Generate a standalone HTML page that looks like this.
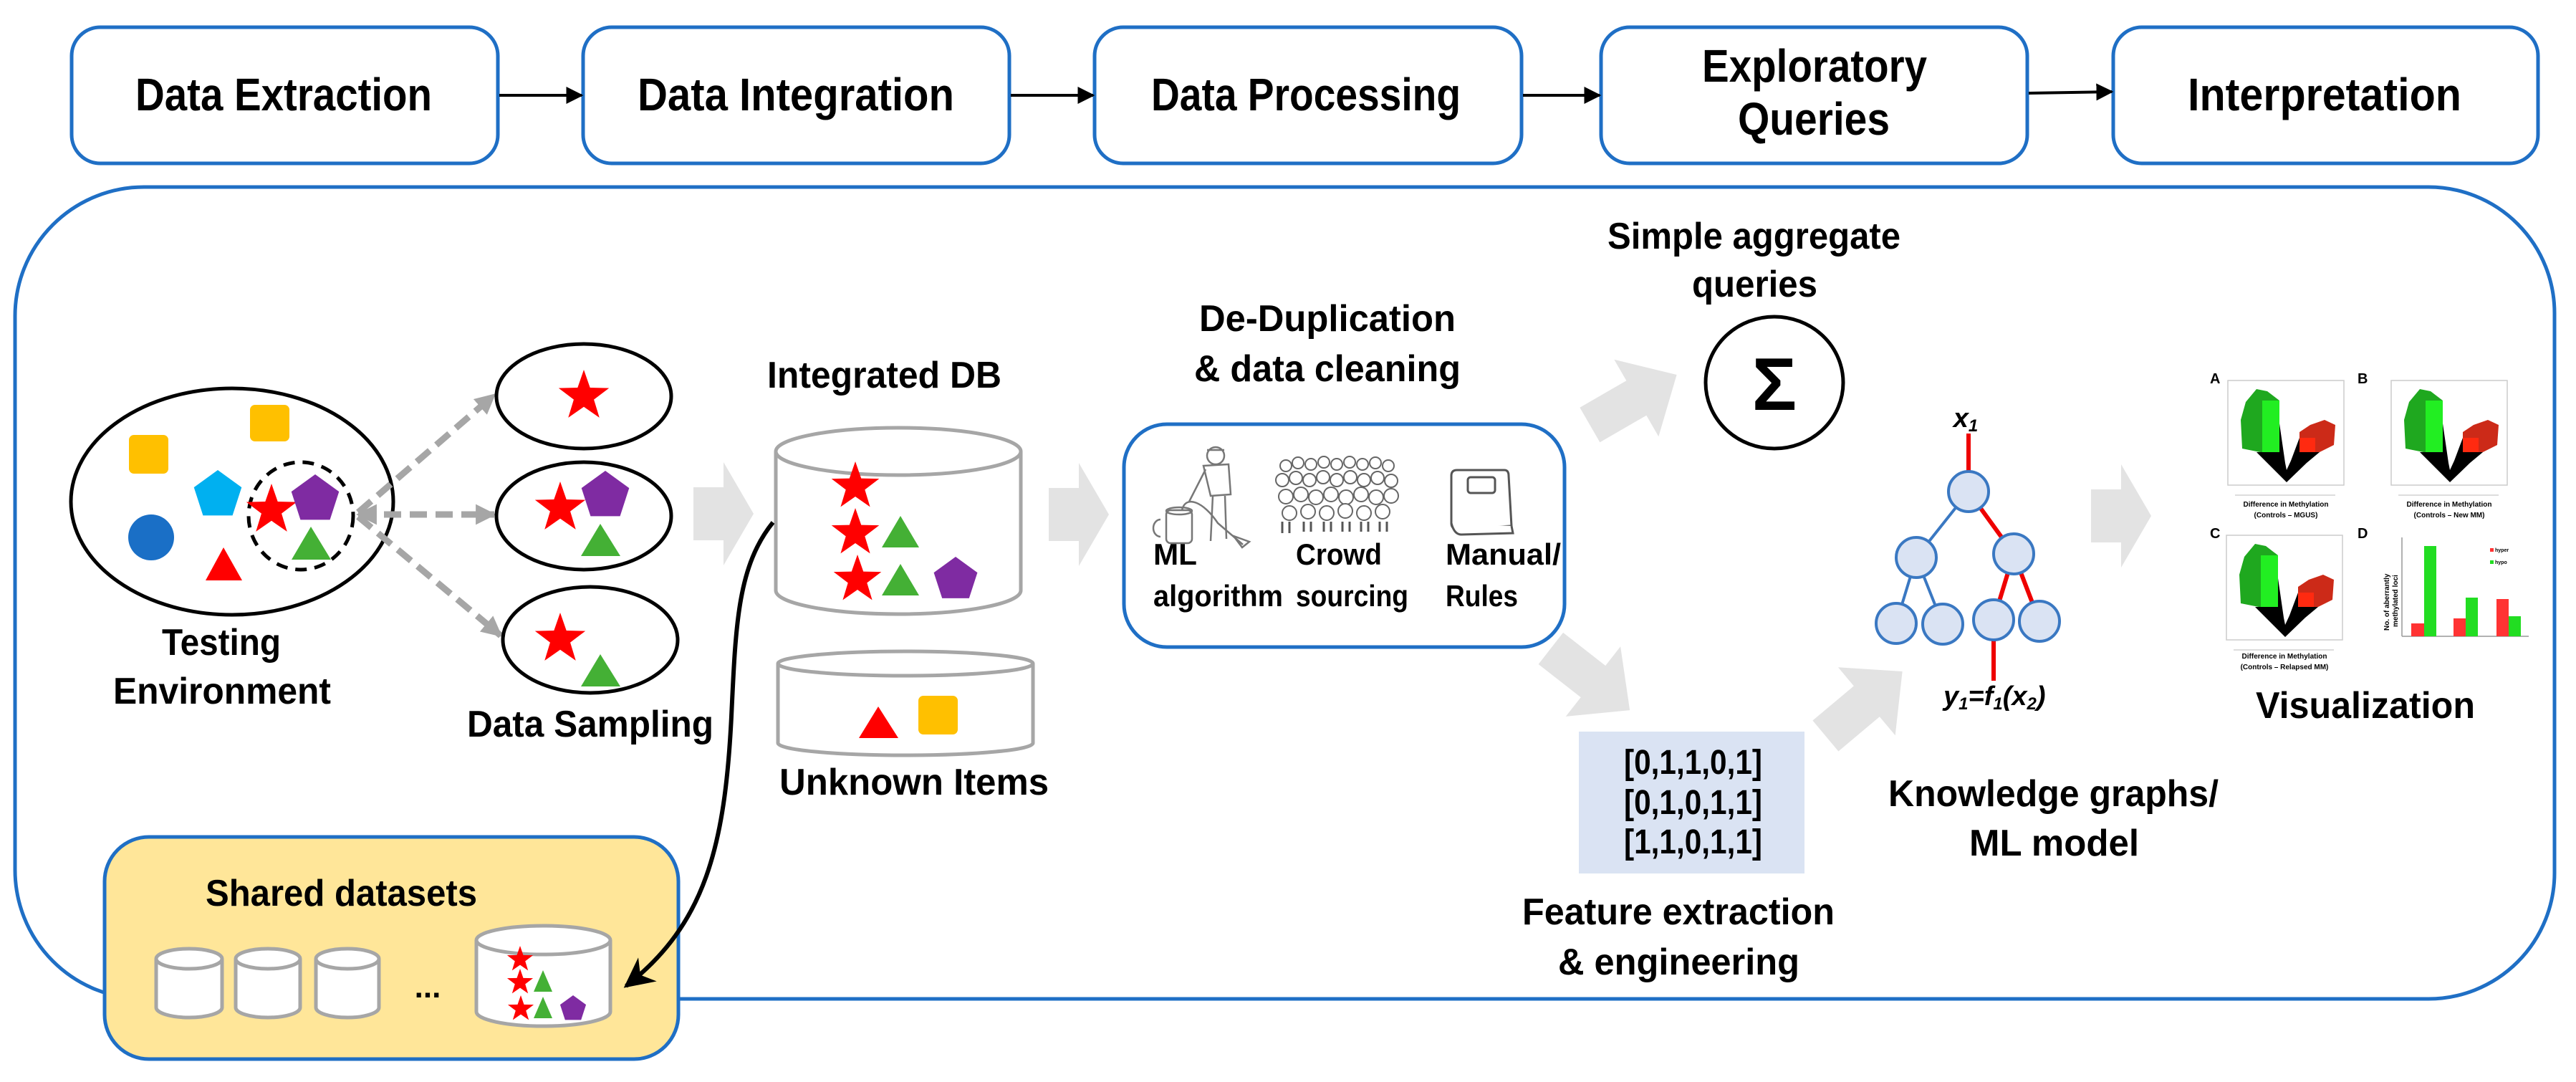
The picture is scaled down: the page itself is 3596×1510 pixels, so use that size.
<!DOCTYPE html>
<html><head><meta charset="utf-8"><style>
html,body{margin:0;padding:0;background:#fff;}
svg{display:block;}
text{font-family:"Liberation Sans",sans-serif;font-weight:bold;fill:#000;}
</style></head><body>
<svg width="3596" height="1510" viewBox="0 0 3596 1510" xmlns="http://www.w3.org/2000/svg">
<defs>
<polygon id="star" points="0,-1 0.235,-0.324 0.951,-0.309 0.380,0.124 0.588,0.809 0,0.4 -0.588,0.809 -0.380,0.124 -0.951,-0.309 -0.235,-0.324"/>
<polygon id="pent" points="0,-1 0.951,-0.309 0.588,0.809 -0.588,0.809 -0.951,-0.309"/>
<marker id="ab" viewBox="0 0 10 10" refX="9" refY="5" markerWidth="6" markerHeight="6" orient="auto" markerUnits="strokeWidth"><path d="M0,0 L10,5 L0,10 z" fill="#000"/></marker>
<marker id="ab2" viewBox="0 0 10 10" refX="9" refY="5" markerWidth="7" markerHeight="7" orient="auto" markerUnits="strokeWidth"><path d="M0,0 L10,5 L0,10 L3,5 z" fill="#000"/></marker>
<marker id="ag" viewBox="0 0 10 10" refX="9" refY="5" markerWidth="3.2" markerHeight="3.2" orient="auto" markerUnits="strokeWidth"><path d="M0,0 L10,5 L0,10 z" fill="#a6a6a6"/></marker>
<marker id="ags" viewBox="0 0 10 10" refX="1" refY="5" markerWidth="3.2" markerHeight="3.2" orient="auto" markerUnits="strokeWidth"><path d="M10,0 L0,5 L10,10 z" fill="#a6a6a6"/></marker>
<polygon id="barr" points="-42,-37 0,-37 0,-72 42,0 0,72 0,37 -42,37" fill="#e3e3e3"/>
<polygon id="darr" points="-70,-28 5,-28 5,-62 70,0 5,62 5,28 -70,28" fill="#e3e3e3"/>
<g id="volc">
  <rect x="0" y="0" width="162" height="146" fill="#fff" stroke="#ccc" stroke-width="1.5"/>
  <polygon points="20,95 18,55 25,30 40,12 55,15 72,28 72,100 45,100" fill="#1fa81f"/>
  <polygon points="82,142 40,100 55,100 72,100 72,60 80,115 82,125 88,112 100,80 100,100 128,100 110,115" fill="#000"/>
  <rect x="48" y="28" width="24" height="72" fill="#22ee22"/>
  <polygon points="100,100 100,72 115,62 135,55 150,62 148,90 128,100" fill="#cc2a18"/>
  <rect x="100" y="80" width="22" height="20" fill="#ff2a10"/>
  <line x1="10" y1="160" x2="150" y2="160" stroke="#bbb" stroke-width="1"/>
</g>
</defs>

<!-- top process boxes -->
<g fill="#fff" stroke="#1f6fc5" stroke-width="5">
<rect x="100" y="38" width="595" height="190" rx="40"/>
<rect x="814" y="38" width="595" height="190" rx="40"/>
<rect x="1528" y="38" width="596" height="190" rx="40"/>
<rect x="2235" y="38" width="595" height="190" rx="40"/>
<rect x="2950" y="38" width="593" height="190" rx="40"/>
</g>
<g stroke="#000" stroke-width="4">
<line x1="697" y1="133" x2="812" y2="133" marker-end="url(#ab)"/>
<line x1="1411" y1="133" x2="1526" y2="133" marker-end="url(#ab)"/>
<line x1="2126" y1="133" x2="2233" y2="133" marker-end="url(#ab)"/>
<line x1="2832" y1="130" x2="2948" y2="128" marker-end="url(#ab)"/>
</g>
<g font-size="64">
<text x="189" y="154" textLength="414" lengthAdjust="spacingAndGlyphs">Data Extraction</text>
<text x="890" y="154" textLength="442" lengthAdjust="spacingAndGlyphs">Data Integration</text>
<text x="1607" y="154" textLength="432" lengthAdjust="spacingAndGlyphs">Data Processing</text>
<text x="2376" y="114" textLength="314" lengthAdjust="spacingAndGlyphs">Exploratory</text>
<text x="2426" y="188" textLength="212" lengthAdjust="spacingAndGlyphs">Queries</text>
<text x="3054" y="154" textLength="382" lengthAdjust="spacingAndGlyphs">Interpretation</text>
</g>

<!-- main container -->
<path d="M201,261 L3390,261 A176,176 0 0 1 3566,437 L3566,1218 A176,176 0 0 1 3390,1394 L201,1394 A180,180 0 0 1 21,1214 L21,441 A180,180 0 0 1 201,261 Z" fill="#fff" stroke="#1f6fc5" stroke-width="5"/>

<!-- testing environment -->
<ellipse cx="324" cy="700" rx="225" ry="158" fill="none" stroke="#000" stroke-width="5"/>
<rect x="180" y="607" width="55" height="54" rx="7" fill="#ffc000"/>
<rect x="349" y="565" width="55" height="51" rx="7" fill="#ffc000"/>
<use href="#pent" transform="translate(304,691) scale(35)" fill="#00b0f0"/>
<ellipse cx="211" cy="750" rx="32" ry="32" fill="#1a6fc6"/>
<polygon points="287,810 338,810 312,764" fill="#ff0000"/>
<ellipse cx="420" cy="720" rx="73" ry="75" fill="none" stroke="#000" stroke-width="5" stroke-dasharray="16 11"/>
<use href="#star" transform="translate(379,712) scale(37)" fill="#ff0000"/>
<use href="#pent" transform="translate(440,697) scale(35)" fill="#7f2ba2"/>
<polygon points="407,781 462,781 434,735" fill="#44b035"/>
<g font-size="52">
<text x="226" y="914" textLength="166" lengthAdjust="spacingAndGlyphs">Testing</text>
<text x="158" y="982" textLength="304" lengthAdjust="spacingAndGlyphs">Environment</text>
</g>

<!-- sampling -->
<g stroke="#a6a6a6" stroke-width="9" stroke-dasharray="24 12" fill="none">
<line x1="500" y1="715" x2="690" y2="551" marker-end="url(#ag)"/>
<line x1="500" y1="718" x2="690" y2="718" marker-end="url(#ag)" marker-start="url(#ags)"/>
<line x1="500" y1="721" x2="699" y2="887" marker-end="url(#ag)"/>
</g>
<g fill="#fff" stroke="#000" stroke-width="5">
<ellipse cx="815" cy="553" rx="122" ry="73"/>
<ellipse cx="815" cy="720" rx="122" ry="75"/>
<ellipse cx="824" cy="893" rx="122" ry="74"/>
</g>
<use href="#star" transform="translate(815,553) scale(37)" fill="#ff0000"/>
<use href="#star" transform="translate(782,709) scale(37)" fill="#ff0000"/>
<use href="#pent" transform="translate(845,692) scale(35)" fill="#7f2ba2"/>
<polygon points="811,776 866,776 838,731" fill="#44b035"/>
<use href="#star" transform="translate(782,892) scale(37)" fill="#ff0000"/>
<polygon points="811,958 866,958 838,913" fill="#44b035"/>
<text x="652" y="1028" font-size="52" textLength="344" lengthAdjust="spacingAndGlyphs">Data Sampling</text>

<use href="#barr" transform="translate(1010,717)"/>

<!-- integrated DB -->
<text x="1071" y="541" font-size="52" textLength="327" lengthAdjust="spacingAndGlyphs">Integrated DB</text>
<g fill="#fff" stroke="#a6a6a6" stroke-width="5">
<path d="M1083,630 L1083,824 A171,33 0 0 0 1425,824 L1425,630"/>
<ellipse cx="1254" cy="630" rx="171" ry="33"/>
<path d="M1086,926 L1086,1037 A178,17 0 0 0 1442,1037 L1442,926"/>
<ellipse cx="1264" cy="926" rx="178" ry="17"/>
</g>
<use href="#star" transform="translate(1194,679) scale(35)" fill="#ff0000"/>
<use href="#star" transform="translate(1194,744) scale(35)" fill="#ff0000"/>
<use href="#star" transform="translate(1197,809) scale(35)" fill="#ff0000"/>
<polygon points="1231,764 1283,764 1257,720" fill="#44b035"/>
<polygon points="1231,831 1283,831 1257,787" fill="#44b035"/>
<use href="#pent" transform="translate(1334,809) scale(32)" fill="#7f2ba2"/>
<polygon points="1199,1030 1254,1030 1226,986" fill="#ff0000"/>
<rect x="1282" y="971" width="55" height="54" rx="7" fill="#ffc000"/>
<text x="1088" y="1109" font-size="52" textLength="376" lengthAdjust="spacingAndGlyphs">Unknown Items</text>

<!-- shared datasets -->
<rect x="146" y="1168" width="801" height="310" rx="62" fill="#ffe699" stroke="#1f6fc5" stroke-width="5"/>
<text x="287" y="1264" font-size="52" textLength="379" lengthAdjust="spacingAndGlyphs">Shared datasets</text>
<g fill="#fff" stroke="#a6a6a6" stroke-width="5">
<path d="M218,1338 L218,1406 A46,14 0 0 0 310,1406 L310,1338"/><ellipse cx="264" cy="1338" rx="46" ry="14"/>
<path d="M329,1338 L329,1406 A45,14 0 0 0 419,1406 L419,1338"/><ellipse cx="374" cy="1338" rx="45" ry="14"/>
<path d="M441,1338 L441,1406 A44,14 0 0 0 529,1406 L529,1338"/><ellipse cx="485" cy="1338" rx="44" ry="14"/>
<path d="M665,1312 L665,1412 A93.5,20 0 0 0 852,1412 L852,1312"/><ellipse cx="758.5" cy="1312" rx="93.5" ry="20"/>
</g>
<text x="597" y="1392" font-size="44" text-anchor="middle">...</text>
<use href="#star" transform="translate(726,1339) scale(19)" fill="#ff0000"/>
<use href="#star" transform="translate(726,1371) scale(19)" fill="#ff0000"/>
<use href="#star" transform="translate(727,1408) scale(19)" fill="#ff0000"/>
<polygon points="745,1384 771,1384 758,1354" fill="#44b035"/>
<polygon points="745,1421 771,1421 758,1391" fill="#44b035"/>
<use href="#pent" transform="translate(800,1408) scale(19)" fill="#7f2ba2"/>

<!-- black curved arrow -->
<path d="M1079,729 C1030,790 1027,870 1021,1000 C1012,1180 985,1290 874,1376" fill="none" stroke="#000" stroke-width="6" marker-end="url(#ab2)"/>

<use href="#barr" transform="translate(1506,718)"/>

<!-- de-dup -->
<text x="1674" y="462" font-size="52" textLength="358" lengthAdjust="spacingAndGlyphs">De-Duplication</text>
<text x="1667" y="532" font-size="52" textLength="372" lengthAdjust="spacingAndGlyphs">&amp; data cleaning</text>
<rect x="1569" y="592" width="615" height="311" rx="60" fill="#fff" stroke="#1f6fc5" stroke-width="5"/>
<g fill="none" stroke="#777" stroke-width="2.5">
<rect x="1628" y="712" width="36" height="46" rx="6"/>
<ellipse cx="1646" cy="713" rx="18" ry="5"/>
<path d="M1620,725 a10,12 0 0 0 0,24"/>
<circle cx="1697" cy="636" r="12"/>
<path d="M1685,628 h24"/>
<path d="M1680,650 L1715,648 L1718,690 L1690,692 Z"/>
<path d="M1693,692 L1690,755 M1710,692 L1712,752"/>
<path d="M1683,655 L1660,700 M1650,712 C1655,690 1680,700 1700,730 L1735,760"/>
<path d="M1722,748 l22,8 l-10,8 z"/>
</g>
<g fill="#fff" stroke="#666" stroke-width="2">
<circle cx="1795" cy="650" r="8"/><circle cx="1812" cy="646" r="8"/><circle cx="1830" cy="648" r="8"/><circle cx="1848" cy="645" r="8"/><circle cx="1866" cy="648" r="8"/><circle cx="1884" cy="645" r="8"/><circle cx="1902" cy="648" r="8"/><circle cx="1920" cy="646" r="8"/><circle cx="1938" cy="650" r="8"/>
<circle cx="1790" cy="670" r="9"/><circle cx="1809" cy="667" r="9"/><circle cx="1828" cy="670" r="9"/><circle cx="1847" cy="666" r="9"/><circle cx="1866" cy="670" r="9"/><circle cx="1885" cy="666" r="9"/><circle cx="1904" cy="670" r="9"/><circle cx="1923" cy="667" r="9"/><circle cx="1942" cy="671" r="9"/>
<circle cx="1795" cy="693" r="10"/><circle cx="1816" cy="690" r="10"/><circle cx="1837" cy="694" r="10"/><circle cx="1858" cy="690" r="10"/><circle cx="1879" cy="694" r="10"/><circle cx="1900" cy="690" r="10"/><circle cx="1921" cy="694" r="10"/><circle cx="1942" cy="692" r="10"/>
<circle cx="1800" cy="716" r="10"/><circle cx="1826" cy="714" r="10"/><circle cx="1852" cy="716" r="10"/><circle cx="1878" cy="713" r="10"/><circle cx="1904" cy="716" r="10"/><circle cx="1930" cy="714" r="10"/>
</g>
<g stroke="#555" stroke-width="3"><path d="M1790,728 v16 M1800,728 v16 M1820,728 v14 M1830,728 v14 M1848,728 v14 M1858,728 v14 M1874,728 v14 M1884,728 v14 M1900,728 v14 M1910,728 v14 M1926,728 v14 M1936,728 v14"/></g>
<g fill="#fff" stroke="#555" stroke-width="3">
<path d="M2026,664 Q2026,656 2034,656 L2100,656 Q2106,656 2106,664 L2110,734 L2034,738 Q2026,738 2026,730 Z"/>
<path d="M2026,730 Q2030,746 2040,746 L2112,744 L2110,734"/>
<rect x="2049" y="666" width="38" height="22" rx="4"/>
</g>
<g font-size="42">
<text x="1610" y="788" textLength="61" lengthAdjust="spacingAndGlyphs">ML</text>
<text x="1610" y="846" textLength="181" lengthAdjust="spacingAndGlyphs">algorithm</text>
<text x="1809" y="788" textLength="120" lengthAdjust="spacingAndGlyphs">Crowd</text>
<text x="1809" y="846" textLength="157" lengthAdjust="spacingAndGlyphs">sourcing</text>
<text x="2018" y="788" textLength="161" lengthAdjust="spacingAndGlyphs">Manual/</text>
<text x="2018" y="846" textLength="101" lengthAdjust="spacingAndGlyphs">Rules</text>
</g>

<!-- aggregate -->
<use href="#darr" transform="translate(2280,558) rotate(-30)"/>
<use href="#darr" transform="translate(2220,948) rotate(38)"/>
<text x="2244" y="347" font-size="52" textLength="409" lengthAdjust="spacingAndGlyphs">Simple aggregate</text>
<text x="2362" y="414" font-size="52" textLength="175" lengthAdjust="spacingAndGlyphs">queries</text>
<ellipse cx="2477" cy="534" rx="96" ry="92" fill="#fff" stroke="#000" stroke-width="5"/>
<text x="2477" y="572" font-size="104" text-anchor="middle">Σ</text>

<!-- features -->
<rect x="2204" y="1021" width="315" height="198" fill="#dae3f3"/>
<g font-size="48">
<text x="2267" y="1080" textLength="193" lengthAdjust="spacingAndGlyphs" font-weight="normal">[0,1,1,0,1]</text>
<text x="2267" y="1136" textLength="193" lengthAdjust="spacingAndGlyphs" font-weight="normal">[0,1,0,1,1]</text>
<text x="2267" y="1191" textLength="193" lengthAdjust="spacingAndGlyphs" font-weight="normal">[1,1,0,1,1]</text>
</g>
<text x="2125" y="1290" font-size="52" textLength="436" lengthAdjust="spacingAndGlyphs">Feature extraction</text>
<text x="2175" y="1360" font-size="52" textLength="337" lengthAdjust="spacingAndGlyphs">&amp; engineering</text>

<use href="#darr" transform="translate(2602,982) rotate(-40)"/>

<!-- tree -->
<g stroke-width="6" fill="none">
<line x1="2748" y1="605" x2="2748" y2="686" stroke="#e00"/>
<line x1="2748" y1="686" x2="2811" y2="773" stroke="#e00"/>
<line x1="2811" y1="773" x2="2783" y2="865" stroke="#e00"/>
<line x1="2811" y1="773" x2="2847" y2="867" stroke="#e00"/>
<line x1="2783" y1="865" x2="2783" y2="950" stroke="#e00"/>
<line x1="2748" y1="686" x2="2675" y2="778" stroke="#3a78c2" stroke-width="4"/>
<line x1="2675" y1="778" x2="2647" y2="870" stroke="#3a78c2" stroke-width="4"/>
<line x1="2675" y1="778" x2="2712" y2="871" stroke="#3a78c2" stroke-width="4"/>
</g>
<g fill="#dae3f3" stroke="#3a78c2" stroke-width="4">
<circle cx="2748" cy="686" r="28"/><circle cx="2675" cy="778" r="28"/><circle cx="2811" cy="773" r="28"/>
<circle cx="2647" cy="870" r="28"/><circle cx="2712" cy="871" r="28"/><circle cx="2783" cy="865" r="28"/><circle cx="2847" cy="867" r="28"/>
</g>
<text x="2744" y="596" font-size="38" font-style="italic" text-anchor="middle">x<tspan font-size="24" dy="6">1</tspan></text>
<text x="2713" y="984" font-size="38" font-style="italic">y<tspan font-size="24" dy="6">1</tspan><tspan dy="-6">=f</tspan><tspan font-size="24" dy="6">1</tspan><tspan dy="-6">(x</tspan><tspan font-size="24" dy="6">2</tspan><tspan dy="-6">)</tspan></text>
<text x="2636" y="1125" font-size="52" textLength="461" lengthAdjust="spacingAndGlyphs">Knowledge graphs/</text>
<text x="2749" y="1194" font-size="52" textLength="237" lengthAdjust="spacingAndGlyphs">ML model</text>

<use href="#barr" transform="translate(2961,720)"/>

<!-- visualization -->
<use href="#volc" transform="translate(3110,531)"/>
<use href="#volc" transform="translate(3338,531)"/>
<use href="#volc" transform="translate(3108,747)"/>
<g>
<text x="3085" y="535" font-size="20" font-weight="normal">A</text>
<text x="3291" y="535" font-size="20" font-weight="normal">B</text>
<text x="3085" y="751" font-size="20" font-weight="normal">C</text>
<text x="3291" y="751" font-size="20" font-weight="normal">D</text>
<text x="3191" y="707" font-size="10" text-anchor="middle">Difference in Methylation</text>
<text x="3191" y="722" font-size="10" text-anchor="middle">(Controls – MGUS)</text>
<text x="3419" y="707" font-size="10" text-anchor="middle">Difference in Methylation</text>
<text x="3419" y="722" font-size="10" text-anchor="middle">(Controls – New MM)</text>
<text x="3189" y="919" font-size="10" text-anchor="middle">Difference in Methylation</text>
<text x="3189" y="934" font-size="10" text-anchor="middle">(Controls – Relapsed MM)</text>
</g>
<g>
<line x1="3353" y1="750" x2="3353" y2="888" stroke="#999" stroke-width="1.5"/>
<line x1="3353" y1="888" x2="3530" y2="888" stroke="#999" stroke-width="1.5"/>
<rect x="3366" y="870" width="18" height="18" fill="#ff3333"/>
<rect x="3384" y="762" width="17" height="126" fill="#22dd22"/>
<rect x="3425" y="863" width="17" height="25" fill="#ff3333"/>
<rect x="3442" y="834" width="17" height="54" fill="#22dd22"/>
<rect x="3485" y="836" width="17" height="52" fill="#ff3333"/>
<rect x="3502" y="860" width="17" height="28" fill="#22dd22"/>
<rect x="3476" y="765" width="5" height="5" fill="#ff3333"/><text x="3483" y="770" font-size="7" font-weight="normal">hyper</text>
<rect x="3476" y="782" width="5" height="5" fill="#22dd22"/><text x="3483" y="787" font-size="7" font-weight="normal">hypo</text>
<text x="3335" y="880" font-size="10" transform="rotate(-90 3335 880)">No. of aberrantly</text>
<text x="3347" y="875" font-size="10" transform="rotate(-90 3347 875)">methylated loci</text>
</g>
<text x="3149" y="1002" font-size="52" textLength="306" lengthAdjust="spacingAndGlyphs">Visualization</text>
</svg>
</body></html>
